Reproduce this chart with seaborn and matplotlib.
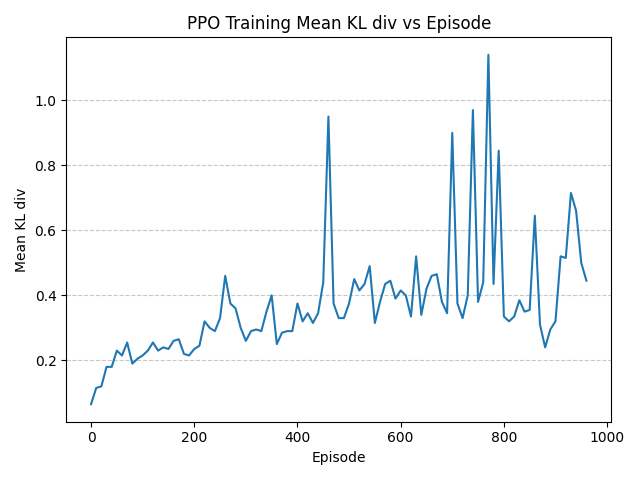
import matplotlib
matplotlib.use("Agg")
import matplotlib.pyplot as plt
import seaborn as sns
import pandas as pd

episodes = list(range(0, 970, 10))
kl = [0.065, 0.115, 0.12, 0.18, 0.18, 0.23, 0.215, 0.255, 0.19, 0.205,
      0.215, 0.23, 0.255, 0.23, 0.24, 0.235, 0.26, 0.265, 0.22, 0.215,
      0.235, 0.245, 0.32, 0.30, 0.29, 0.33, 0.46, 0.375, 0.36, 0.30,
      0.26, 0.29, 0.295, 0.29, 0.35, 0.40, 0.25, 0.285, 0.29, 0.29,
      0.375, 0.32, 0.345, 0.315, 0.345, 0.44, 0.95, 0.375, 0.33, 0.33,
      0.375, 0.45, 0.415, 0.435, 0.49, 0.315, 0.38, 0.435, 0.445, 0.39,
      0.415, 0.40, 0.335, 0.52, 0.34, 0.42, 0.46, 0.465, 0.38, 0.345,
      0.90, 0.375, 0.33, 0.40, 0.97, 0.38, 0.44, 1.14, 0.435, 0.845,
      0.335, 0.32, 0.335, 0.385, 0.35, 0.355, 0.645, 0.31, 0.24, 0.295,
      0.32, 0.52, 0.515, 0.715, 0.66, 0.50, 0.445]

df = pd.DataFrame({"Episode": episodes, "Mean KL div": kl})
fig, ax = plt.subplots(figsize=(6.4, 4.8), dpi=100)
sns.lineplot(data=df, x="Episode", y="Mean KL div", ax=ax, color="#1f77b4")
ax.grid(axis="y", linestyle="--", alpha=0.7)
ax.set_title("PPO Training Mean KL div vs Episode")
fig.tight_layout()
fig.savefig("out.png")
